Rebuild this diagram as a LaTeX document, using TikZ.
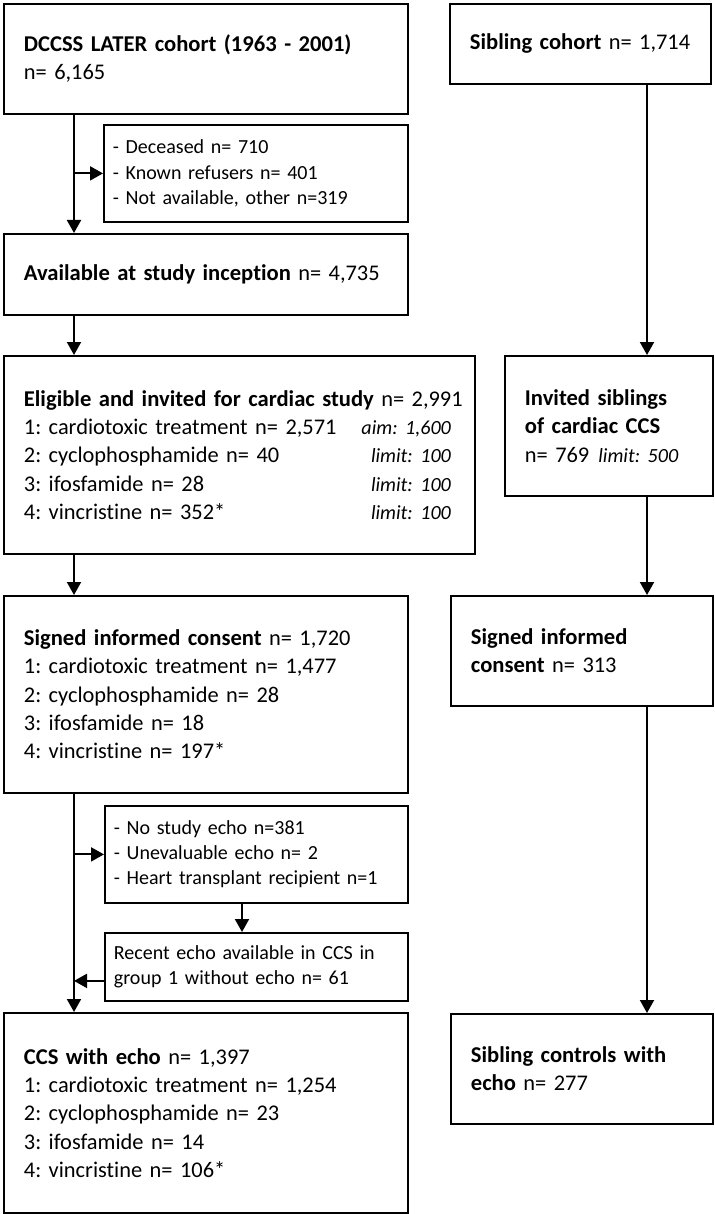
\documentclass[tikz,border=0pt]{standalone}
\usepackage{fontspec}
\setmainfont{Carlito}[Ligatures=NoCommon]
\frenchspacing
\usetikzlibrary{arrows.meta}
\newcommand{\fsz}{\fontsize{22.4}{28.3}\selectfont}
\newcommand{\fsx}{\fontsize{20}{25.2}\selectfont}
\newcommand{\B}[1]{{\fontsize{22.6}{28.3}\selectfont\bfseries #1}}
\newcommand{\I}[1]{{\fontsize{20.1}{28.3}\selectfont\itshape #1}}
\newcommand{\RL}[2]{\makebox[427pt][s]{#1\hfill\I{#2}}}
\begin{document}
\begin{tikzpicture}[x=1pt,y=-1pt,
  mainbox/.style={draw, line width=1.8pt, anchor=north west, inner xsep=20pt, inner ysep=0pt, align=left, font=\fsz},
  exbox/.style={draw, line width=1.8pt, anchor=north west, inner xsep=9pt, inner ysep=0pt, align=left, font=\fsx},
  arr/.style={line width=2pt, -{Triangle[length=13pt,width=14pt]}}]
\useasboundingbox (0,0) rectangle (714,1214);
\coordinate (L) at (74,0);
\coordinate (R) at (647,0);
\coordinate (X2) at (242,0);

\node[mainbox, text width=364pt, minimum height=110pt] (dccss) at (3,3)
  {\mbox{\B{DCCSS LATER cohort (1963 - 2001)}}\\\mbox{n= 6,165}};
\node[exbox, text width=286pt, minimum height=97pt] (excl1) at (103,124)
  {\mbox{- Deceased n= 710}\\\mbox{- Known refusers n= 401}\\\mbox{- Not available, other n=319}};
\node[mainbox, text width=221pt, minimum height=80pt] (sib) at (449,3)
  {\mbox{\B{Sibling cohort} n= 1,714}};
\node[mainbox, text width=364pt, minimum height=81pt] (avail) at (3,233)
  {\mbox{\B{Available at study inception} n= 4,735}};
\node[mainbox, text width=431pt, minimum height=198pt] (elig) at (3,355)
  {\mbox{\B{Eligible and invited for cardiac study} n= 2,991}\\
   \RL{1: cardiotoxic treatment n= 2,571}{aim: 1,600}\\
   \RL{2: cyclophosphamide n= 40}{limit: 100}\\
   \RL{3: ifosfamide n= 28}{limit: 100}\\
   \RL{4: vincristine n= 352*}{limit: 100}};
\node[mainbox, text width=168pt, minimum height=140pt] (invsib) at (504,355)
  {\mbox{\B{Invited siblings}}\\\mbox{\B{of cardiac CCS}}\\\mbox{n= 769\hspace{9pt}\I{limit: 500}}};
\node[mainbox, text width=364pt, minimum height=197pt] (signed) at (3,595)
  {\mbox{\B{Signed informed consent} n= 1,720}\\
   \mbox{1: cardiotoxic treatment n= 1,477}\\
   \mbox{2: cyclophosphamide n= 28}\\
   \mbox{3: ifosfamide n= 18}\\
   \mbox{4: vincristine n= 197*}};
\node[mainbox, text width=222pt, minimum height=110pt] (sigsib) at (450,595)
  {\mbox{\B{Signed informed}}\\\mbox{\B{consent} n= 313}};
\node[exbox, text width=285pt, minimum height=97pt] (excl2) at (104,805)
  {\mbox{- No study echo n=381}\\\mbox{- Unevaluable echo n= 2}\\\mbox{- Heart transplant recipient n=1}};
\node[exbox, text width=285pt, minimum height=68pt] (recent) at (104,932)
  {\mbox{Recent echo available in CCS in}\\\mbox{group 1 without echo n= 61}};
\node[mainbox, text width=364pt, minimum height=200pt] (ccs) at (3,1012)
  {\mbox{\B{CCS with echo} n= 1,397}\\
   \mbox{1: cardiotoxic treatment n= 1,254}\\
   \mbox{2: cyclophosphamide n= 23}\\
   \mbox{3: ifosfamide n= 14}\\
   \mbox{4: vincristine n= 106*}};
\node[mainbox, text width=222pt, minimum height=110pt] (sibctl) at (450,1013)
  {\mbox{\B{Sibling controls with}}\\\mbox{\B{echo} n= 277}};

% left column
\draw[arr] (dccss.south -| L) -- (avail.north -| L);
\draw[arr] (excl1.west -| L) -- (excl1.west);
\draw[arr] (avail.south -| L) -- (elig.north -| L);
\draw[arr] (elig.south -| L) -- (signed.north -| L);
\draw[arr] (signed.south -| L) -- (ccs.north -| L);
\draw[arr] (excl2.west -| L) -- (excl2.west);
\draw[arr] (excl2.south -| X2) -- (recent.north -| X2);
\draw[arr] ([yshift=-14pt]recent.west) -- ([yshift=-14pt]recent.west -| L);
% right column
\draw[arr] (sib.south -| R) -- (invsib.north -| R);
\draw[arr] (invsib.south -| R) -- (sigsib.north -| R);
\draw[arr] (sigsib.south -| R) -- (sibctl.north -| R);
\end{tikzpicture}
\end{document}
